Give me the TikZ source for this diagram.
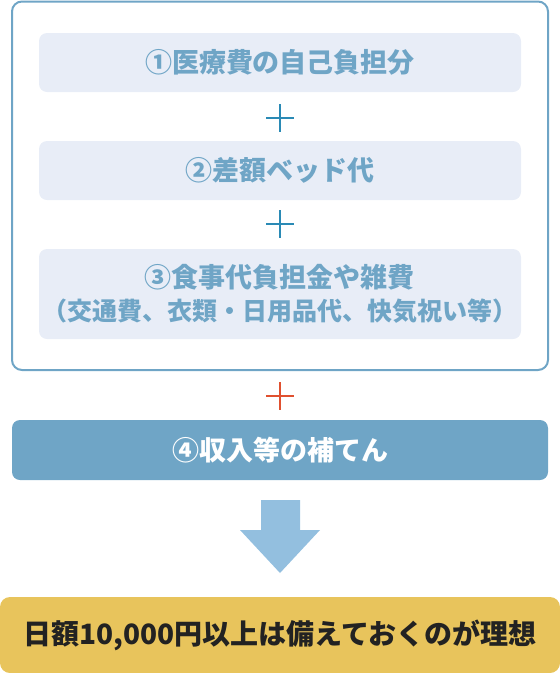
\documentclass[tikz,border=0pt]{standalone}
\usepackage{fontspec}
\setmainfont{Noto Sans CJK JP}
\usepackage{tikz}
\definecolor{framblue}{HTML}{6FA5C6}
\definecolor{paleblue}{HTML}{E8EDF7}
\definecolor{plusblue}{HTML}{2A8AB5}
\definecolor{plusred}{HTML}{E0502F}
\definecolor{arrowblue}{HTML}{93BFDF}
\definecolor{goldbox}{HTML}{E8C45C}
\definecolor{darktext}{HTML}{222222}

\tikzset{
  costbox/.style={fill=paleblue, rounded corners=8pt, minimum width=482pt,
    text=framblue, font=\bfseries\fontsize{27}{33}\selectfont, align=center},
  plusmark/.style={line width=2pt}
}

\begin{document}
\begin{tikzpicture}[x=1pt, y=-1pt]
  \useasboundingbox (0,0) rectangle (560,673);
  % outer frame round items 1-3
  \draw[framblue, line width=2pt, rounded corners=10pt] (12,1.5) rectangle (548,370);
  \node[costbox, minimum height=59pt] (med) at (280,62.5) {①医療費の自己負担分};
  \node[costbox, minimum height=59pt] (bed) at (280,170.5) {②差額ベッド代};
  \node[costbox, minimum height=90pt] (meal) at (280,294)
        {③食事代負担金や雑費\\{\fontsize{25}{33}\selectfont（交通費、衣類・日用品代、快気祝い等）}};
  % plus signs between boxes
  \draw[plusmark, plusblue] (266,118) -- (294,118) (280,104) -- (280,132);
  \draw[plusmark, plusblue] (266,224) -- (294,224) (280,210) -- (280,238);
  \draw[plusmark, plusred] (266,396) -- (294,396) (280,382) -- (280,410);
  % income box
  \node[fill=framblue, rounded corners=8pt, minimum width=536pt, minimum height=60pt,
        text=white, font=\bfseries\fontsize{27}{30}\selectfont] (inc) at (280,450)
        {④収入等の補てん};
  % big down arrow
  \fill[arrowblue] (261,500) -- (300,500) -- (300,530) -- (320,530) -- (280,573)
        -- (240,530) -- (261,530) -- cycle;
  % result box
  \node[fill=goldbox, rounded corners=10pt, minimum width=560pt, minimum height=76pt,
        text=darktext, font=\bfseries\fontsize{28}{30}\selectfont] (goal) at (280,635)
        {日額10,000円以上は備えておくのが理想};
\end{tikzpicture}
\end{document}
